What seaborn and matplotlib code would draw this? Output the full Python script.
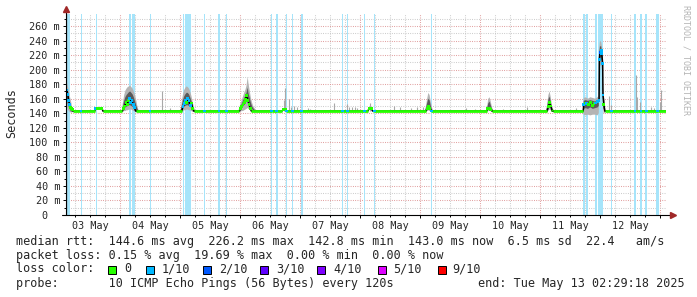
import numpy as np
import matplotlib
matplotlib.use("Agg")
import matplotlib.pyplot as plt
from matplotlib.patches import Rectangle
from matplotlib.collections import LineCollection
from matplotlib.ticker import MultipleLocator, FuncFormatter, NullFormatter
import seaborn as sns

# ---------------- data (time in days since 03 May 00:00, values in ms) ----------------
x_start = 2.4883 / 24
x_end = 10 + 2.4883 / 24
day_labels = ["03 May", "04 May", "05 May", "06 May", "07 May",
              "08 May", "09 May", "10 May", "11 May", "12 May"]
y_ticks = [0, 20, 40, 60, 80, 100, 120, 140, 160, 180, 200, 220, 240, 260]

med_t = [0.104, 0.115, 0.13, 0.145, 0.16, 0.175, 0.19, 0.205, 0.22,
         0.35,
         0.58, 0.595, 0.62, 0.66, 0.70, 0.715,
         1.04, 1.06, 1.08, 1.10, 1.12, 1.14, 1.16, 1.18, 1.20, 1.22, 1.24, 1.26,
         1.50,
         2.03, 2.05, 2.07, 2.09, 2.11, 2.13, 2.15, 2.17, 2.19, 2.21, 2.23,
         2.405, 2.65, 2.775,
         2.99, 3.01, 3.03, 3.05, 3.07, 3.09, 3.11, 3.13, 3.15, 3.17, 3.19,
         3.527, 3.61, 3.70, 3.72, 3.76, 3.775, 3.875, 4.03, 4.715, 4.787,
         5.075, 5.13, 5.15, 5.19, 5.21, 5.24,
         6.10, 6.12, 6.14, 6.16, 6.19,
         7.11, 7.13, 7.16, 7.18, 7.20,
         8.12, 8.14, 8.16, 8.18, 8.20, 8.21,
         8.72, 8.73, 8.75, 8.78, 8.81, 8.84, 8.87, 8.90, 8.93, 8.96, 8.985,
         8.99, 9.00, 9.02, 9.03, 9.045, 9.05, 9.065, 9.08,
         9.19, 9.585, 9.685, 9.77, 9.965, 10.1037]
med_ms = [172, 172, 166, 158, 152, 148, 147, 145, 143,
          143,
          143, 147, 147, 147, 147, 143,
          143, 147, 150, 155, 152, 158, 160, 155, 157, 152, 148, 143,
          143,
          143, 149, 153, 158, 155, 160, 157, 151, 154, 147, 143,
          143, 143, 143,
          143, 146, 149, 152, 155, 159, 164, 158, 152, 147, 143,
          143, 143, 143, 145, 145, 143, 143, 143, 143, 143,
          143, 143, 146, 146, 143, 143,
          143, 146, 150, 147, 143,
          143, 146, 147, 145, 143,
          143, 149, 155, 150, 144, 143,
          143, 152, 154, 153, 152, 155, 151, 153, 154, 156, 158,
          214, 224, 226, 222, 208, 165, 152, 143,
          143, 143, 143, 143, 143, 143]
med_loss = [1, 1, 1, 1, 1, 0, 0, 0, 0,
            1,
            0, 1, 0, 0, 0, 0,
            0, 0, 0, 0, 0, 0, 1, 1, 1, 1, 1, 0,
            1,
            0, 1, 1, 1, 0, 1, 1, 1, 0, 0, 0,
            1, 1, 1,
            0, 0, 0, 0, 0, 0, 0, 0, 0, 0, 0,
            1, 1, 0, 0, 0, 1, 1, 1, 1, 1,
            1, 0, 0, 0, 0, 1,
            0, 0, 0, 0, 1,
            0, 0, 0, 0, 0,
            0, 0, 0, 0, 0, 0,
            0, 1, 0, 1, 0, 0, 0, 0, 1, 1, 1,
            1, 2, 1, 1, 1, 1, 0, 0,
            1, 1, 1, 1, 1, 0]

nan = np.nan
smoke_t = [0.104, 0.12, 0.14, 0.16, 0.18, 0.20, 0.22, nan,
           1.03, 1.05, 1.07, 1.09, 1.11, 1.13, 1.15, 1.17, 1.19, 1.21, 1.23, 1.25, 1.27, 1.29, 1.31, nan,
           2.01, 2.03, 2.05, 2.07, 2.09, 2.11, 2.13, 2.15, 2.17, 2.19, 2.21, 2.23, 2.25, nan,
           2.97, 2.99, 3.01, 3.03, 3.05, 3.07, 3.09, 3.11, 3.12, 3.13, 3.14, 3.16, 3.18, 3.20, 3.22, 3.25, 3.28, nan,
           6.08, 6.10, 6.12, 6.14, 6.16, 6.18, 6.20, 6.22, nan,
           7.10, 7.12, 7.14, 7.16, 7.18, 7.20, 7.23, nan,
           8.10, 8.12, 8.14, 8.16, 8.18, 8.20, 8.23, nan,
           8.72, 8.73, 8.76, 8.80, 8.84, 8.88, 8.92, 8.96, 8.98, 8.99, 9.00, 9.02, 9.04, 9.05, 9.06, 9.08, 9.09]
smoke_hi = [182, 181, 174, 165, 158, 150, 145, nan,
            144, 155, 165, 171, 174, 176, 177, 178, 176, 174, 170, 165, 158, 150, 144, nan,
            144, 156, 166, 172, 175, 177, 176, 174, 170, 164, 156, 149, 144, nan,
            143, 148, 153, 158, 163, 168, 172, 178, 185, 190, 182, 172, 162, 155, 150, 146, 143, nan,
            143, 150, 160, 168, 165, 156, 148, 143, nan,
            143, 150, 160, 162, 156, 148, 143, nan,
            143, 152, 165, 170, 162, 150, 143, nan,
            143, 161, 162, 160, 162, 161, 160, 162, 165, 232, 240, 238, 228, 180, 165, 158, 143]
smoke_lo = [150, 148, 144, 142, 141, 141, 142, nan,
            142, 142, 143, 143, 144, 144, 145, 145, 145, 144, 143, 143, 142, 142, 142, nan,
            142, 142, 143, 144, 144, 145, 145, 144, 144, 143, 142, 142, 142, nan,
            142, 142, 142, 143, 143, 144, 145, 146, 147, 147, 146, 145, 144, 143, 142, 142, 142, nan,
            142, 142, 143, 144, 143, 142, 142, 142, nan,
            142, 142, 143, 143, 143, 142, 142, nan,
            142, 142, 144, 145, 144, 142, 142, nan,
            142, 138, 137, 138, 137, 138, 138, 137, 140, 195, 205, 208, 195, 150, 140, 140, 142]
core_lo = [160, 156, 150, 146, 143, 142, 142, nan,
           142, 144, 146, 148, 149, 150, 151, 151, 150, 149, 148, 146, 144, 143, 142, nan,
           142, 144, 147, 149, 150, 151, 151, 150, 149, 147, 145, 143, 142, nan,
           142, 143, 145, 147, 149, 151, 153, 156, 158, 160, 156, 152, 148, 146, 144, 143, 142, nan,
           142, 144, 147, 149, 147, 144, 143, 142, nan,
           142, 144, 146, 146, 145, 143, 142, nan,
           142, 145, 149, 151, 148, 144, 142, nan,
           142, 146, 147, 146, 148, 146, 147, 148, 150, 205, 215, 218, 205, 155, 146, 143, 142]
core_hi = [176, 172, 164, 157, 151, 146, 144, nan,
           143, 150, 157, 162, 165, 167, 169, 170, 168, 166, 162, 157, 151, 146, 143, nan,
           143, 150, 158, 163, 166, 168, 168, 166, 162, 157, 151, 146, 143, nan,
           143, 145, 149, 153, 157, 161, 164, 168, 172, 175, 168, 162, 155, 150, 147, 144, 143, nan,
           143, 147, 154, 160, 158, 150, 145, 143, nan,
           143, 147, 154, 156, 151, 146, 143, nan,
           143, 149, 159, 163, 156, 147, 143, nan,
           143, 157, 158, 157, 158, 157, 156, 158, 160, 225, 232, 232, 220, 170, 158, 150, 143]

spike_t = [1.705, 1.833, 3.733, 3.758, 3.817, 3.85, 3.908, 3.95, 4.142, 4.175,
           4.567, 4.783, 4.825, 4.867, 4.917, 4.958, 5.167, 5.567, 5.675, 5.85,
           5.95, 6.05, 6.767, 6.917, 7.392, 7.783, 8.6, 9.15, 9.183, 9.6,
           9.625, 9.667, 9.85, 9.9, 10.008, 10.025]
spike_top = [171, 147, 158, 175, 160, 148, 150, 149, 147, 146,
             154, 153, 148, 148, 149, 147, 154, 150, 149, 147,
             149, 148, 147, 146, 146, 149, 147, 164, 152, 192,
             162, 156, 149, 147, 156, 172]

loss_start = [0.104, 0.345, 0.593, 1.15, 1.20, 1.497, 2.045, 2.088, 2.403, 2.638,
              2.767, 3.517, 3.595, 3.767, 3.862, 4.012, 4.705, 4.778, 5.067, 5.233,
              6.183, 8.725, 8.775, 8.92, 8.962, 9.18, 9.575, 9.675, 9.758, 9.942]
loss_end = [0.167, 0.362, 0.61, 1.183, 1.25, 1.515, 2.067, 2.183, 2.42, 2.667,
            2.785, 3.538, 3.628, 3.785, 3.888, 4.045, 4.725, 4.797, 5.085, 5.25,
            6.2, 8.75, 8.80, 8.945, 9.058, 9.2, 9.597, 9.695, 9.783, 9.992]

loss_colors = ['#26ff00', '#00b8ff', '#0059ff', '#5e00ff', '#7e00ff', '#dd00ff', '#ff0000']
loss_labels = ['0', '1/10', '2/10', '3/10', '4/10', '5/10', '9/10']

# ---------------- figure ----------------
sns.set_theme(style="white")
plt.rcParams['font.family'] = ['DejaVu Sans Mono', 'DejaVu Sans']

W, H = 697, 297
fig = plt.figure(figsize=(W / 100, H / 100), dpi=100)
fig.patch.set_facecolor('white')
px_per_ms = 189 / 260
y_top = 277
ax = fig.add_axes([66.2 / W, 1 - 215 / H, 600 / W, (y_top * px_per_ms) / H])
ax.set_facecolor('white')
ax.set_xlim(x_start, x_end)
ax.set_ylim(0, y_top)
for s in ax.spines.values():
    s.set_visible(False)

# grid
ax.set_axisbelow(True)
ax.xaxis.set_major_locator(MultipleLocator(1))
ax.xaxis.set_minor_locator(MultipleLocator(0.25))
ax.yaxis.set_major_locator(MultipleLocator(20))
ax.yaxis.set_minor_locator(MultipleLocator(10))
ax.grid(which='minor', color='#c4c4c4', linestyle=(0, (0.8, 1.4)), linewidth=0.75)
ax.grid(which='major', color='#dc9090', linestyle=(0, (0.8, 1.4)), linewidth=0.75)

ax.xaxis.set_major_formatter(NullFormatter())


def day_fmt(v, p):
    k = v - 0.5
    if abs(k - round(k)) < 1e-6 and 0 <= round(k) < len(day_labels):
        return day_labels[int(round(k))]
    return ''


ax.xaxis.set_minor_formatter(FuncFormatter(day_fmt))
ax.set_yticks(y_ticks)
ax.yaxis.set_major_formatter(FuncFormatter(lambda v, p: f"{v:.0f} m" if v > 0 else "0\u2007\u2007"))
ax.tick_params(axis='y', which='major', length=2.2, width=0.7, color='black', direction='out',
               labelsize=7.25, pad=2.2, left=True)
ax.tick_params(axis='y', which='minor', length=1.5, width=0.7, color='black', direction='out', left=True)
ax.tick_params(axis='x', which='major', length=2.2, width=0.7, color='black', direction='out', bottom=True)
ax.tick_params(axis='x', which='minor', length=1.2, width=0.7, color='black', direction='out',
               labelsize=7.25, pad=3.0, bottom=True)

# loss bars
for s, e in zip(loss_start, loss_end):
    ax.axvspan(s, e, color='#a6e4fa', lw=0, zorder=1)
ax.axvline(x_start + 0.004, color='#6a6a6a', lw=0.9, zorder=1.5)

# smoke
ax.fill_between(smoke_t, smoke_lo, smoke_hi, color='#b4b4b4', lw=0, zorder=2)
ax.fill_between(smoke_t, core_lo, core_hi, color='#5a5a5a', lw=0, zorder=2.1)
ax.vlines(spike_t, 143, spike_top, color='#a8a8a8', lw=0.8, zorder=2)

# median
sns.lineplot(x=med_t, y=med_ms, color='black', lw=1.1, ax=ax, estimator=None,
             sort=False, legend=False, zorder=3)
segs = []
for i in range(len(med_t) - 1):
    if med_ms[i] <= 144 and med_ms[i + 1] <= 144:
        segs.append([(med_t[i], med_ms[i]), (med_t[i + 1], med_ms[i + 1])])
ax.add_collection(LineCollection(segs, colors=loss_colors[0], linewidths=2.0, zorder=4,
                                 capstyle='butt'))
pts = [i for i in range(len(med_t)) if med_ms[i] > 144 or med_loss[i] > 0]
sns.scatterplot(x=[med_t[i] for i in pts], y=[med_ms[i] for i in pts],
                c=[loss_colors[med_loss[i]] for i in pts], marker='s', s=4,
                linewidth=0, ax=ax, zorder=5, legend=False)
ax.set_xlabel('')
ax.set_ylabel('')

# axes lines and arrows
ax.plot([0, 0], [0, 1.02], transform=ax.transAxes, color='black', lw=0.8, clip_on=False, zorder=6)
ax.plot([-0.007, 1.008], [0, 0], transform=ax.transAxes, color='black', lw=0.8, clip_on=False, zorder=6)
ax.plot([0], [1.022], marker='^', color='#a02828', markersize=4, transform=ax.transAxes,
        clip_on=False, zorder=7)
ax.plot([1.0105], [0], marker='>', color='#a02828', markersize=4, transform=ax.transAxes,
        clip_on=False, zorder=7)

# texts
def ftext(x, y, s, **kw):
    fig.text(x / W, 1 - y / H, s, **kw)


FS = 8.5
ftext(11.5, 113, "Seconds", rotation=90, ha='center', va='center', fontsize=FS)
ftext(686, 5, "RRDTOOL / TOBI OETIKER", rotation=270, ha='center', va='top', fontsize=6,
      color='#b4b4b4')
ftext(16, 241, "median rtt:  144.6 ms avg  226.2 ms max  142.8 ms min  143.0 ms now  6.5 ms sd  22.4   am/s",
      ha='left', va='center', fontsize=FS)
ftext(16, 255, "packet loss: 0.15 % avg  19.69 % max  0.00 % min  0.00 % now",
      ha='left', va='center', fontsize=FS)
ftext(16, 269, "loss color:", ha='left', va='center', fontsize=FS)
sq_x = [108, 146, 203, 260, 317, 378, 438]
lab_x = [124, 162, 219, 276, 333, 393, 452]
for c, lab, sx, lx in zip(loss_colors, loss_labels, sq_x, lab_x):
    fig.add_artist(Rectangle((sx / W, 1 - 273.5 / H), 8 / W, 8 / H, transform=fig.transFigure,
                             facecolor=c, edgecolor='black', lw=0.7))
    ftext(lx, 269, lab, ha='left', va='center', fontsize=FS)
ftext(16, 283, "probe:       10 ICMP Echo Pings (56 Bytes) every 120s",
      ha='left', va='center', fontsize=FS)
ftext(478, 283, "end: Tue May 13 02:29:18 2025", ha='left', va='center', fontsize=FS)

fig.savefig("out.png", dpi=100, facecolor='white')
